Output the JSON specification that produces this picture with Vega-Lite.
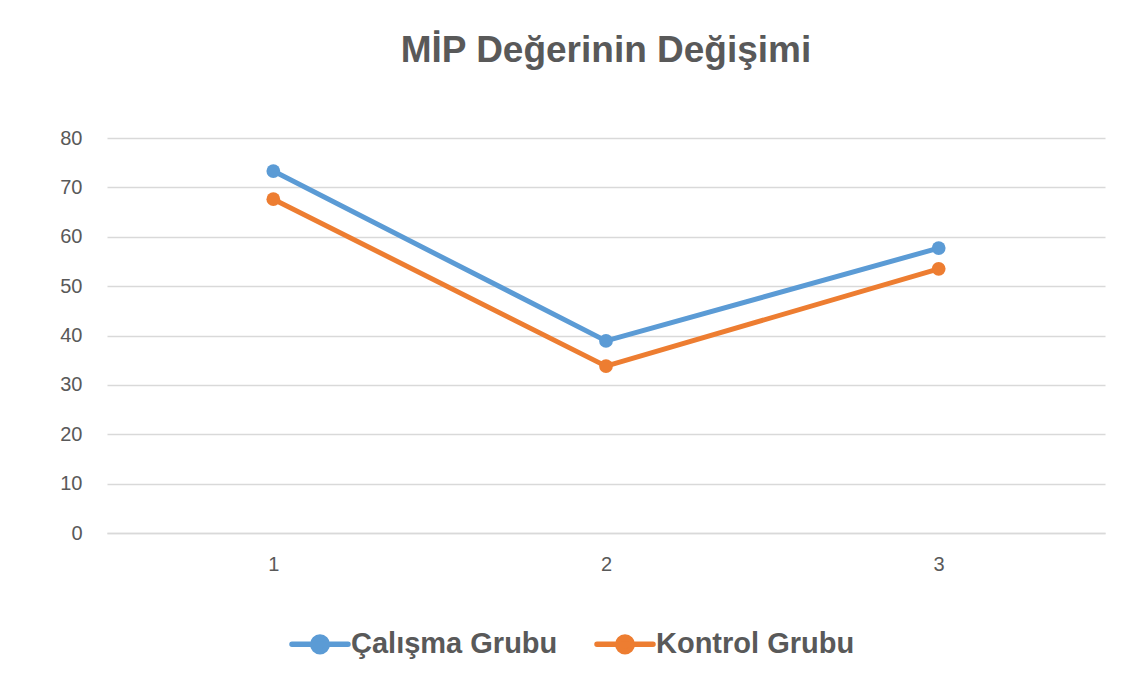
{
  "$schema": "https://vega.github.io/schema/vega-lite/v6.json",
  "width": 998,
  "height": 395,
  "autosize": {"type": "none"},
  "padding": {"left": 107, "top": 138, "right": 27, "bottom": 145},
  "background": "white",
  "title": {
    "text": "MİP Değerinin Değişimi",
    "font": "Liberation Sans",
    "fontSize": 37,
    "fontWeight": "bold",
    "color": "#595959",
    "anchor": "middle",
    "offset": 58
  },
  "data": {
    "values": [
      {"x": "1", "group": "Çalışma Grubu", "v": 73.3},
      {"x": "2", "group": "Çalışma Grubu", "v": 38.9},
      {"x": "3", "group": "Çalışma Grubu", "v": 57.7},
      {"x": "1", "group": "Kontrol Grubu", "v": 67.6},
      {"x": "2", "group": "Kontrol Grubu", "v": 33.8},
      {"x": "3", "group": "Kontrol Grubu", "v": 53.5}
    ]
  },
  "mark": {"type": "line", "strokeWidth": 5, "point": {"filled": true, "size": 190, "opacity": 1}},
  "encoding": {
    "x": {
      "field": "x", "type": "ordinal",
      "scale": {"type": "point", "padding": 0.5},
      "axis": {
        "title": null, "labelAngle": 0, "ticks": false,
        "domainColor": "#d9d9d9", "domainWidth": 1.5,
        "labelFont": "Liberation Sans", "labelFontSize": 20, "labelColor": "#595959",
        "labelPadding": 21
      }
    },
    "y": {
      "field": "v", "type": "quantitative",
      "scale": {"domain": [0, 80], "nice": false},
      "axis": {
        "title": null, "values": [0,10,20,30,40,50,60,70,80],
        "domain": false, "ticks": false, "labelOverlap": false,
        "gridColor": "#d9d9d9", "gridWidth": 1.5,
        "labelFont": "Liberation Sans", "labelFontSize": 20, "labelColor": "#595959",
        "labelPadding": 25
      }
    },
    "color": {
      "field": "group", "type": "nominal",
      "scale": {"domain": ["Çalışma Grubu", "Kontrol Grubu"], "range": ["#5B9BD5", "#ED7D31"]},
      "legend": {
        "title": null,
        "orient": "none",
        "legendX": 182,
        "legendY": 475,
        "direction": "horizontal",
        "labelFont": "Liberation Sans",
        "labelFontSize": 29,
        "labelFontWeight": "bold",
        "labelColor": "#595959",
        "labelLimit": 0,
        "labelOffset": 0,
        "columnPadding": 28,
        "symbolType": "M-1,0H1M-0.26,0A0.26,0.26 0 1,1 0.26,0A0.26,0.26 0 1,1 -0.26,0Z",
        "symbolSize": 3136,
        "symbolStrokeWidth": 5.5,
        "encode": {"symbols": {"update": {"fill": {"scale": "color", "field": "value"}, "strokeCap": {"value": "round"}}}}
      }
    }
  },
  "config": {"view": {"stroke": null}}
}
